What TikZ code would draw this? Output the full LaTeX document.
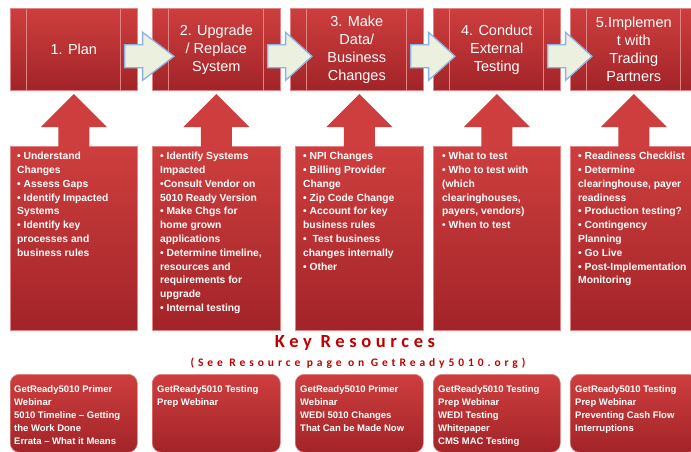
\documentclass[tikz,border=0pt]{standalone}
\usepackage{fontspec}
\setmainfont{Liberation Sans}
\newfontfamily\keyfont[LetterSpace=25]{Carlito}
\newfontfamily\seefont[LetterSpace=34]{Carlito}
\usepackage{tikz}
\usetikzlibrary{calc}

\definecolor{boxtop}{RGB}{206,62,62}
\definecolor{boxbot}{RGB}{162,36,40}
\definecolor{boxedge}{RGB}{226,132,132}
\definecolor{chevfill}{RGB}{235,241,222}
\definecolor{chevedge}{RGB}{141,179,226}
\definecolor{keyred}{RGB}{192,0,0}

\tikzset{
  stagebox/.style={draw=boxedge, line width=0.6pt, top color=boxtop, bottom color=boxbot,
    anchor=north west, minimum width=#1, minimum height=82pt, inner sep=0pt,
    text=white, align=center, font=\fontsize{14.5}{18}\selectfont},
  taskbox/.style={draw=boxedge, line width=0.6pt, top color=boxtop, bottom color=boxbot,
    anchor=north west, minimum width=#1, minimum height=184pt, inner sep=0pt},
  tasktext/.style={anchor=north west, inner sep=0pt, text=white, align=left,
    font=\bfseries\fontsize{10.3}{13.8}\selectfont},
  resbox/.style={draw=boxedge, line width=0.6pt, top color=boxtop, bottom color=boxbot,
    rounded corners=9pt, anchor=north west, minimum width=#1, minimum height=78pt, inner sep=0pt},
  restext/.style={anchor=north west, inner sep=0pt, text=white, align=left,
    font=\bfseries\fontsize{9.5}{13}\selectfont},
  chev/.style={fill=chevfill, draw=chevedge, line width=1.3pt},
  uparrow/.style={fill=boxtop},
  stripe/.style={draw=boxedge, line width=0.5pt}
}

\begin{document}
\begin{tikzpicture}[x=1pt,y=-1pt]
  \useasboundingbox (0,0) rectangle (691,451);

  % stages
  \node[stagebox=127pt] (s1) at (10,8) {1. Plan};
  \node[stagebox=128pt] (s2) at (152,8) {2. Upgrade\\/ Replace\\System};
  \node[stagebox=133pt] (s3) at (290,8) {3. Make\\Data/\\Business\\Changes};
  \node[stagebox=127pt] (s4) at (433,8) {4. Conduct\\External\\Testing};
  \node[stagebox=127pt] (s5) at (570,8) {5.Implemen\\t with\\Trading\\Partners};
  \foreach \n in {1,...,5} {
    \draw[stripe] ($(s\n.north west)+(16,0)$) -- ($(s\n.south west)+(16,0)$);
    \draw[stripe] ($(s\n.north east)+(-17,0)$) -- ($(s\n.south east)+(-17,0)$);
  }
  \foreach \a/\b in {1/2,2/3,3/4,4/5} {
    \path[chev] ($(s\a.east)+(-13,-4.5)$) -- ($(s\a.east)+(5,-4.5)$)
      -- ($(s\a.east)+(5,-17)$) -- ($(s\b.west)+(22,7)$) -- ($(s\a.east)+(5,31)$)
      -- ($(s\a.east)+(5,18.5)$) -- ($(s\a.east)+(-13,18.5)$) -- cycle;
  }

  % tasks
  \node[taskbox=127pt] (t1) at (10,146) {};
  \node[taskbox=128pt] (t2) at (152,146) {};
  \node[taskbox=128pt] (t3) at (295,146) {};
  \node[taskbox=127pt] (t4) at (433,146) {};
  \node[taskbox=127pt] (t5) at (570,146) {};
  \foreach \n in {1,...,5} {
    \path[uparrow] ($(t\n.north)+(-15.5,1)$) -- ($(t\n.north)+(-15.5,-19)$)
      -- ($(t\n.north)+(-33,-19)$) -- ($(t\n.north)+(0,-52)$) -- ($(t\n.north)+(33,-19)$)
      -- ($(t\n.north)+(15.5,-19)$) -- ($(t\n.north)+(15.5,1)$) -- cycle;
  }
  \node[tasktext] (l1) at ($(t1.north west)+(7,6)$) {• Understand\\Changes\\• Assess Gaps\\• Identify Impacted\\Systems\\• Identify key\\processes and\\business rules};
  \node[tasktext] (l2) at ($(t2.north west)+(8,6)$) {• Identify Systems\\Impacted\\•Consult Vendor on\\5010 Ready Version\\• Make Chgs for\\home grown\\applications\\• Determine timeline,\\resources and\\requirements for\\upgrade\\• Internal testing};
  \node[tasktext] (l3) at ($(t3.north west)+(8,6)$) {• NPI Changes\\• Billing Provider\\Change\\• Zip Code Change\\• Account for key\\business rules\\•\ \ Test business\\changes internally\\• Other};
  \node[tasktext] (l4) at ($(t4.north west)+(9,6)$) {• What to test\\• Who to test with\\(which\\clearinghouses,\\payers, vendors)\\• When to test};
  \node[tasktext] (l5) at ($(t5.north west)+(8,6)$) {• Readiness Checklist\\• Determine\\clearinghouse, payer\\readiness\\• Production testing?\\• Contingency\\Planning\\• Go Live\\• Post-Implementation\\Monitoring};

  % key resources
  \node[text=keyred, font=\keyfont\bfseries\fontsize{18.5}{20}\selectfont] (key) at (355,343) {Key Resources};
  \node[text=keyred, font=\seefont\bfseries\fontsize{11.5}{13}\selectfont] (see) at (358,363) {(See Resource page on GetReady5010.org)};

  \node[resbox=127pt] (r1) at (10,374) {};
  \node[resbox=128pt] (r2) at (152,374) {};
  \node[resbox=128pt] (r3) at (295,374) {};
  \node[resbox=127pt] (r4) at (433,374) {};
  \node[resbox=127pt] (r5) at (570,374) {};
  \node[restext] (q1) at ($(r1.north west)+(4,11)$) {GetReady5010 Primer\\Webinar\\5010 Timeline -- Getting\\the Work Done\\Errata -- What it Means};
  \node[restext] (q2) at ($(r2.north west)+(5,11)$) {GetReady5010 Testing\\Prep Webinar};
  \node[restext] (q3) at ($(r3.north west)+(5,11)$) {GetReady5010 Primer\\Webinar\\WEDI 5010 Changes\\That Can be Made Now};
  \node[restext] (q4) at ($(r4.north west)+(5,11)$) {GetReady5010 Testing\\Prep Webinar\\WEDI Testing\\Whitepaper\\CMS MAC Testing};
  \node[restext] (q5) at ($(r5.north west)+(5,11)$) {GetReady5010 Testing\\Prep Webinar\\Preventing Cash Flow\\Interruptions};
\end{tikzpicture}
\end{document}
